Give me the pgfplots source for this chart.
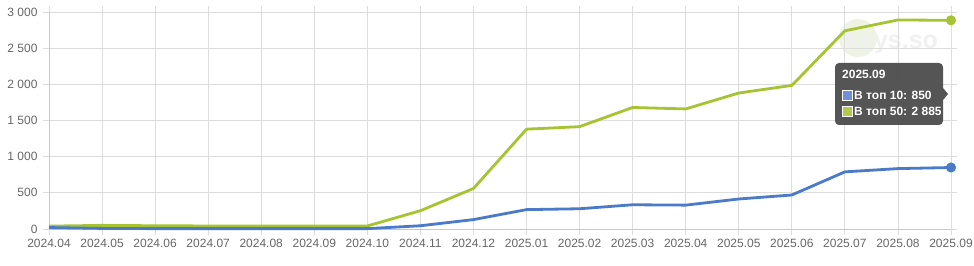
\documentclass[border=0pt]{standalone}
\usepackage{pgfplots}
\pgfplotsset{compat=1.18}
\usepackage{fontspec}
\setmainfont{Liberation Sans}
\definecolor{blueS}{RGB}{74,122,200}
\definecolor{greenS}{RGB}{166,195,50}
\definecolor{gridC}{RGB}{221,221,221}
\definecolor{tickC}{RGB}{102,102,102}
\definecolor{tipC}{RGB}{80,80,80}
\definecolor{wmC}{RGB}{238,243,228}
\definecolor{wmT}{RGB}{240,240,240}
\begin{document}
\begin{tikzpicture}[x=1pt,y=1pt]
\useasboundingbox (-49,-36) rectangle (925,229);
% watermark
\fill[wmC] (809,191) circle (19);
\node[anchor=west, font=\fontsize{25}{25}\selectfont\bfseries, text=wmT, inner sep=0] at (797,187) {keys.so};
\begin{axis}[
  at={(0,0)}, anchor=south west,
  scale only axis, width=902pt, height=217pt,
  xmin=0, xmax=17, ymin=0, ymax=3000,
  clip=false,
  xtick={0,...,17},
  xticklabels={2024.04,2024.05,2024.06,2024.07,2024.08,2024.09,2024.10,2024.11,2024.12,2025.01,2025.02,2025.03,2025.04,2025.05,2025.06,2025.07,2025.08,2025.09},
  ytick={0,500,1000,1500,2000,2500,3000},
  yticklabels={0,500,1 000,1 500,2 000,2 500,3 000},
  grid=major,
  major grid style={gridC, line width=0.8pt},
  axis line style={draw=none},
  tick align=outside,
  major tick length=6pt,
  tick style={gridC, line width=0.8pt},
  ticklabel style={font=\fontsize{12}{12}\selectfont, text=tickC},
  xticklabel style={yshift=-1pt},
  yticklabel style={xshift=-2pt},
  /pgf/number format/assume math mode=true,
]
\draw[color={rgb,255:red,200;green,200;blue,200}, line width=0.8pt] (axis cs:0,0) -- (axis cs:17,0);
\draw[color={rgb,255:red,200;green,200;blue,200}, line width=0.8pt] (axis cs:0,0) -- (axis cs:0,3000);
\addplot[greenS, line width=2.8pt, line join=round, mark=*, mark indices={18}, mark size=3.6pt, mark options={solid, fill=greenS, draw=none}] coordinates {
(0,40) (1,50) (2,45) (3,42) (4,42) (5,42) (6,42) (7,253) (8,560) (9,1380) (10,1415) (11,1680) (12,1660) (13,1880) (14,1985) (15,2740) (16,2890) (17,2885)
};
\addplot[blueS, line width=2.8pt, line join=round, mark=*, mark indices={18}, mark size=3.6pt, mark options={solid, fill=blueS, draw=none}] coordinates {
(0,20) (1,8) (2,5) (3,5) (4,5) (5,5) (6,5) (7,45) (8,130) (9,268) (10,280) (11,335) (12,330) (13,415) (14,470) (15,790) (16,835) (17,850)
};
\end{axis}
% tooltip
\fill[tipC, opacity=0.97, rounded corners=4pt] (786,104) rectangle (894,166);
\fill[tipC, opacity=0.97] (894,141) -- (899,135) -- (894,129) -- cycle;
\node[anchor=west, inner sep=0, text=white, font=\fontsize{12}{12}\selectfont\bfseries] at (793,155) {2025.09};
\filldraw[fill={rgb,255:red,110;green,145;blue,215}, draw=white, line width=0.6pt] (793,129) rectangle (803,139);
\filldraw[fill={rgb,255:red,180;green,200;blue,75}, draw=white, line width=0.6pt] (793,113) rectangle (803,123);
\node[anchor=west, inner sep=0, text=white, font=\fontsize{12}{12}\selectfont\bfseries] at (805,134) {В топ 10: 850};
\node[anchor=west, inner sep=0, text=white, font=\fontsize{12}{12}\selectfont\bfseries] at (805,118) {В топ 50: 2 885};
\end{tikzpicture}
\end{document}
